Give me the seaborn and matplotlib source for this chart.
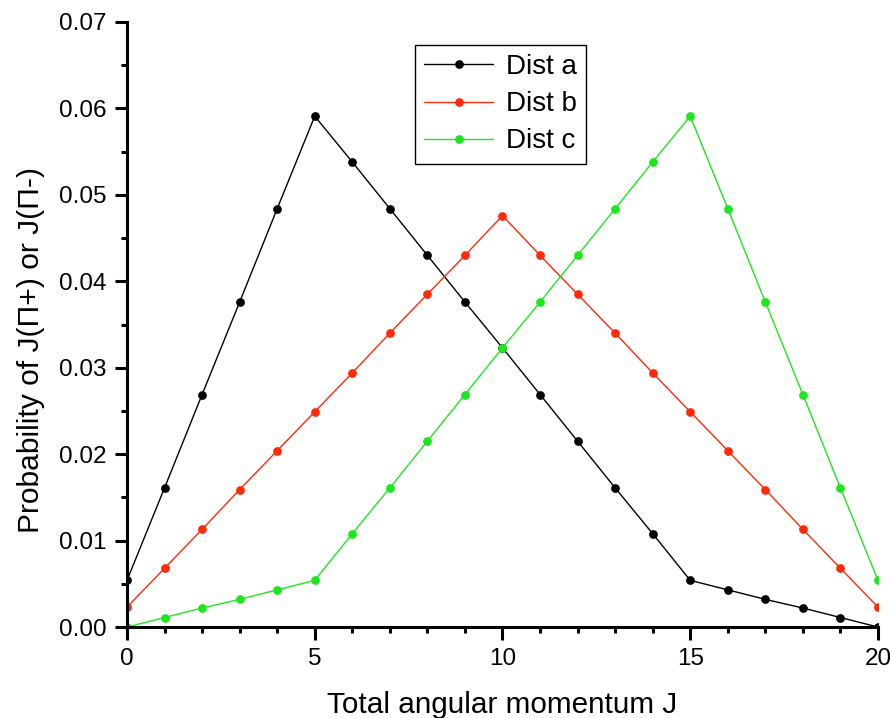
import numpy as np
import pandas as pd
import matplotlib
matplotlib.use("Agg")
import matplotlib.pyplot as plt
from matplotlib.ticker import MultipleLocator, FormatStrFormatter
import seaborn as sns

# Angular momentum values and the three probability distributions
J = list(range(21))
dist_a = [0.0054, 0.0161, 0.0269, 0.0376, 0.0484, 0.0591, 0.0538, 0.0484, 0.0430, 0.0376,
          0.0323, 0.0269, 0.0215, 0.0161, 0.0108, 0.0054, 0.0043, 0.0032, 0.0022, 0.0011, 0.0]
dist_b = [0.0023, 0.0068, 0.0113, 0.0159, 0.0204, 0.0249, 0.0294, 0.0340, 0.0385, 0.0430,
          0.0476, 0.0430, 0.0385, 0.0340, 0.0294, 0.0249, 0.0204, 0.0159, 0.0113, 0.0068, 0.0023]
dist_c = [0.0, 0.0011, 0.0022, 0.0032, 0.0043, 0.0054, 0.0108, 0.0161, 0.0215, 0.0269,
          0.0323, 0.0376, 0.0430, 0.0484, 0.0538, 0.0591, 0.0484, 0.0376, 0.0269, 0.0161, 0.0054]
series_names = ["Dist a", "Dist b", "Dist c"]
colors = ["#000000", "#ff2a0a", "#1ee61e"]

df = pd.DataFrame({
    "J": J * 3,
    "P": dist_a + dist_b + dist_c,
    "Dist": [n for n in series_names for _ in J],
})

sns.set_style("ticks")
plt.rcParams["font.family"] = ["Liberation Sans", "DejaVu Sans"]
plt.rcParams["text.color"] = "black"
plt.rcParams["axes.labelcolor"] = "black"
plt.rcParams["xtick.color"] = "black"
plt.rcParams["ytick.color"] = "black"
plt.rcParams["axes.edgecolor"] = "black"

fig = plt.figure(figsize=(8.9, 7.18), dpi=100)
ax = fig.add_axes([0.1427, 0.1267, 0.8438, 0.8427])

for name, col in zip(series_names, colors):
    sub = df[df["Dist"] == name]
    sns.lineplot(data=sub, x="J", y="P", ax=ax, color=col, label=name,
                 marker="o", markersize=6.3, markeredgewidth=0, linewidth=1.0)

ax.set_xlim(0, 20)
ax.set_ylim(0, 0.07)
ax.xaxis.set_major_locator(MultipleLocator(5))
ax.xaxis.set_minor_locator(MultipleLocator(1))
ax.yaxis.set_major_locator(MultipleLocator(0.01))
ax.yaxis.set_minor_locator(MultipleLocator(0.005))
ax.yaxis.set_major_formatter(FormatStrFormatter("%.2f"))

sns.despine(ax=ax)
for s in ("left", "bottom"):
    ax.spines[s].set_linewidth(2.2)
ax.tick_params(which="major", direction="out", length=9, width=2.2, labelsize=17.5, pad=6)
ax.tick_params(which="minor", direction="out", length=4.5, width=2.2)

ax.set_xlabel("Total angular momentum J", fontsize=21.4, labelpad=15)
ax.set_ylabel("Probability of J(\u03a0+) or J(\u03a0-)", fontsize=21.6, labelpad=10)
ax.yaxis.label.set_y(0.458)

leg = ax.legend(loc="upper left", bbox_to_anchor=(0.383, 0.962), fontsize=20,
                frameon=True, fancybox=False, edgecolor="black", framealpha=1,
                handlelength=2.5, borderpad=0.33, labelspacing=0.4, handletextpad=0.45,
                borderaxespad=0)
leg.get_frame().set_linewidth(1.0)

fig.savefig("out.png", dpi=100)
